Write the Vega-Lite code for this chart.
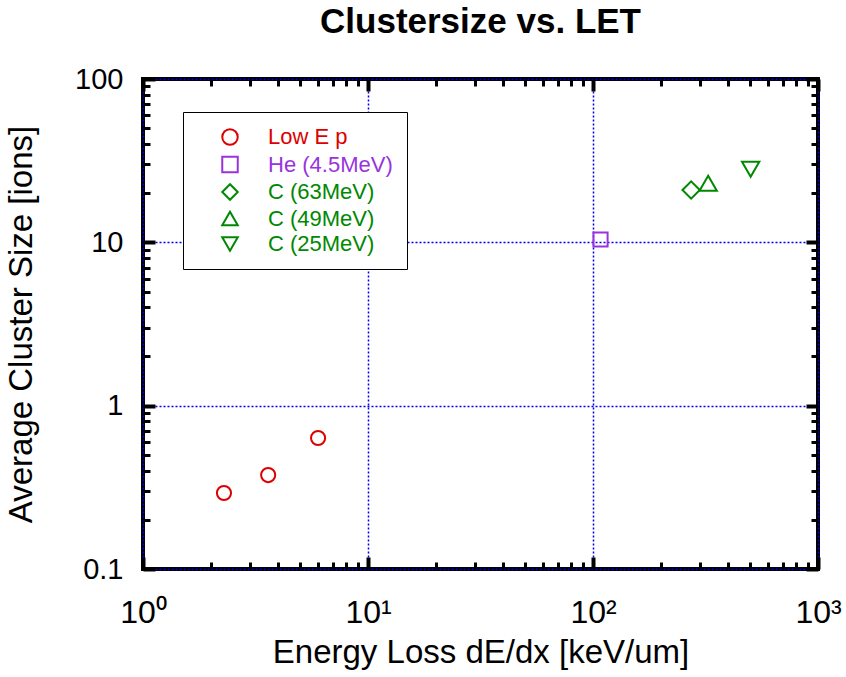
{
  "$schema": "https://vega.github.io/schema/vega-lite/v6.json",
  "width": 675,
  "height": 490,
  "autosize": "none",
  "padding": {"left": 143, "top": 79, "right": 28, "bottom": 108},
  "background": "white",
  "config": {
    "font": "Liberation Sans",
    "view": {"stroke": "black", "strokeWidth": 4},
    "axis": {"labelFont": "Liberation Sans", "titleFont": "Liberation Sans", "labelColor": "black", "titleColor": "black", "tickColor": "black", "titleFontWeight": "normal", "domain": false}
  },
  "title": {"text": "Clustersize vs. LET", "fontSize": 35, "fontWeight": "bold", "font": "Liberation Sans", "color": "black", "offset": 25, "anchor": "middle"},
  "data": {"values": [
    {"series": "Low E p", "dedx": 2.29, "size": 0.292},
    {"series": "Low E p", "dedx": 3.6, "size": 0.376},
    {"series": "Low E p", "dedx": 6.0, "size": 0.634},
    {"series": "He (4.5MeV)", "dedx": 108, "size": 10.4},
    {"series": "C (63MeV)", "dedx": 273, "size": 20.9},
    {"series": "C (49MeV)", "dedx": 325, "size": 23.0},
    {"series": "C (25MeV)", "dedx": 502, "size": 28.0}
  ]},
  "resolve": {"axis": {"x": "independent", "y": "independent"}},
  "layer": [
    {
      "transform": [{"filter": "datum.series == 'Low E p' || datum.series == 'He (4.5MeV)'"}],
      "mark": {"type": "point", "filled": false, "strokeWidth": 2, "size": 200, "opacity": 1},
      "encoding": {
        "x": {"field": "dedx", "type": "quantitative",
          "scale": {"type": "log", "domain": [1, 1000], "nice": false},
          "axis": {"orient": "bottom", "values": [1, 10, 100, 1000], "tickSize": -12, "tickWidth": 4,
            "labelExpr": "'10' + ['⁰','¹','²','³'][round(log(datum.value)/LN10)]",
            "labelFontSize": 32, "labelPadding": 40, "labelOverlap": false, "labelFlush": false, "labelBaseline": "top",
            "title": "Energy Loss dE/dx [keV/um]", "titleFontSize": 33, "titlePadding": 8,
            "grid": true, "gridColor": "#0000ee", "gridDash": [2, 2], "gridWidth": 1.5, "gridOpacity": 1}},
        "y": {"field": "size", "type": "quantitative",
          "scale": {"type": "log", "domain": [0.1, 100], "nice": false},
          "axis": {"orient": "left", "values": [0.1, 1, 10, 100], "tickSize": -12, "tickWidth": 4,
            "format": "~g", "labelFontSize": 29, "labelPadding": 32, "labelOverlap": false, "labelFlush": false,
            "title": "Average Cluster Size [ions]", "titleFontSize": 33, "titlePadding": 36,
            "grid": true, "gridColor": "#0000ee", "gridDash": [2, 2], "gridWidth": 1.5, "gridOpacity": 1}},
        "color": {"field": "series", "type": "nominal",
          "scale": {"domain": ["Low E p", "He (4.5MeV)", "C (63MeV)", "C (49MeV)", "C (25MeV)"], "range": ["#dd0000", "#9933dd", "#008800", "#008800", "#008800"]},
          "legend": {"orient": "none", "legendX": 40, "legendY": 33, "title": null, "zindex": 2,
            "fillColor": "white", "strokeColor": "black", "padding": 14,
            "symbolOffset": 22, "labelOffset": 27, "rowPadding": 3.5,
            "labelFont": "Liberation Sans", "labelFontSize": 22, "symbolSize": 240, "symbolStrokeWidth": 2,
            "labelColor": {"expr": "scale('color', datum.value)"},
            "encode": {
              "legend": {"update": {"strokeWidth": {"value": 3.5}}}
            }}},
        "shape": {"field": "series", "type": "nominal",
          "scale": {"domain": ["Low E p", "He (4.5MeV)", "C (63MeV)", "C (49MeV)", "C (25MeV)"], "range": ["circle", "square", "diamond", "triangle-up", "triangle-down"]}}
      }
    },
    {
      "transform": [{"filter": "datum.series != 'Low E p' && datum.series != 'He (4.5MeV)'"}],
      "mark": {"type": "point", "filled": false, "strokeWidth": 2, "size": 300, "opacity": 1},
      "encoding": {
        "x": {"field": "dedx", "type": "quantitative",
          "axis": {"orient": "bottom", "values": [2,3,4,5,6,7,8,9,20,30,40,50,60,70,80,90,200,300,400,500,600,700,800,900], "tickSize": -7, "tickWidth": 3, "labels": false, "title": null, "grid": false}},
        "y": {"field": "size", "type": "quantitative",
          "axis": {"orient": "left", "values": [0.2,0.3,0.4,0.5,0.6,0.7,0.8,0.9,2,3,4,5,6,7,8,9,20,30,40,50,60,70,80,90], "tickSize": -7, "tickWidth": 3, "labels": false, "title": null, "grid": false}},
        "color": {"field": "series", "type": "nominal"},
        "shape": {"field": "series", "type": "nominal"}
      }
    },
    {
      "transform": [{"filter": "datum.dedx > 0"}],
      "mark": {"type": "point", "opacity": 0, "filled": false},
      "encoding": {
        "x": {"field": "dedx", "type": "quantitative",
          "axis": {"orient": "top", "values": [1, 10, 100, 1000], "tickSize": -12, "tickWidth": 4, "labels": false, "title": null, "grid": false}},
        "y": {"field": "size", "type": "quantitative",
          "axis": {"orient": "right", "values": [0.1, 1, 10, 100], "tickSize": -12, "tickWidth": 4, "labels": false, "title": null, "grid": false}},
        "strokeOpacity": {"field": "series", "type": "nominal",
          "scale": {"domain": ["C (25MeV)", "C (49MeV)", "C (63MeV)", "He (4.5MeV)", "Low E p"]},
          "legend": {"orient": "none", "legendX": 43, "legendY": 36, "title": null, "zindex": 1,
            "fillColor": "black", "strokeColor": "black", "padding": 14,
            "symbolOffset": 22, "labelOffset": 27, "rowPadding": 3.5,
            "labelFont": "Liberation Sans", "labelFontSize": 22, "symbolSize": 240, "symbolStrokeWidth": 0,
            "symbolOpacity": 0, "labelColor": "black",
            "encode": {
              "legend": {"update": {"strokeWidth": {"value": 3.5}}}
            }}}
      }
    },
    {
      "mark": {"type": "point", "opacity": 0},
      "encoding": {
        "x": {"field": "dedx", "type": "quantitative",
          "axis": {"orient": "top", "values": [2,3,4,5,6,7,8,9,20,30,40,50,60,70,80,90,200,300,400,500,600,700,800,900], "tickSize": -7, "tickWidth": 3, "labels": false, "title": null, "grid": false}},
        "y": {"field": "size", "type": "quantitative",
          "axis": {"orient": "right", "values": [0.2,0.3,0.4,0.5,0.6,0.7,0.8,0.9,2,3,4,5,6,7,8,9,20,30,40,50,60,70,80,90], "tickSize": -7, "tickWidth": 3, "labels": false, "title": null, "grid": false}}
      }
    }
  ]
}
